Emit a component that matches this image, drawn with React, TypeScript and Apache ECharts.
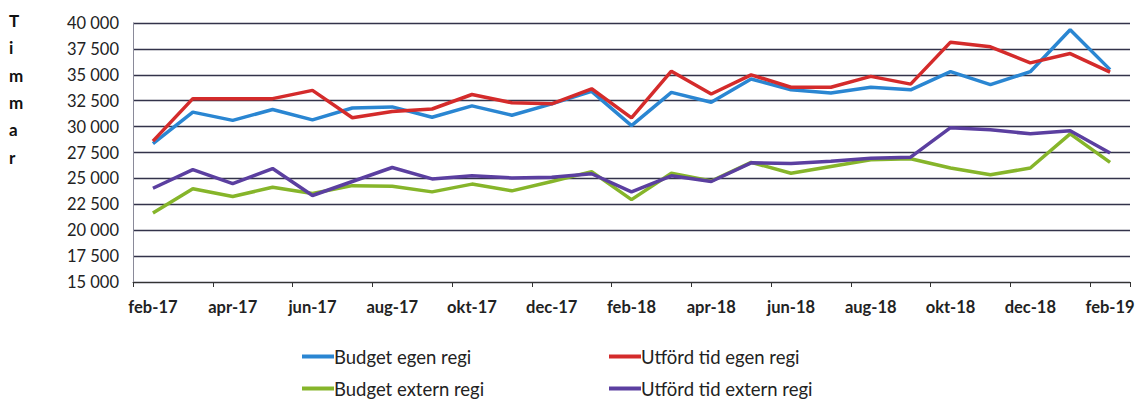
import React, { useEffect, useRef } from "react";
import * as echarts from "echarts";

const months = [
  "feb-17", "mar-17", "apr-17", "maj-17", "jun-17", "jul-17", "aug-17", "sep-17", "okt-17", "nov-17", "dec-17", "jan-18",
  "feb-18", "mar-18", "apr-18", "maj-18", "jun-18", "jul-18", "aug-18", "sep-18", "okt-18", "nov-18", "dec-18", "jan-19", "feb-19",
];
const budgetEgen = [28350, 31400, 30600, 31650, 30650, 31800, 31900, 30900, 32000, 31100, 32200, 33400, 30100, 33300, 32350, 34600, 33550, 33250, 33800, 33550, 35300, 34050, 35300, 39350, 35500];
const utfordEgen = [28600, 32700, 32700, 32700, 33500, 30850, 31450, 31700, 33100, 32300, 32200, 33650, 30850, 35350, 33150, 35000, 33800, 33800, 34850, 34100, 38150, 37700, 36150, 37050, 35250];
const budgetExtern = [21650, 24000, 23250, 24150, 23550, 24300, 24250, 23700, 24450, 23800, 24700, 25650, 22950, 25500, 24750, 26550, 25500, 26150, 26800, 26900, 26000, 25350, 26000, 29300, 26550];
const utfordExtern = [24050, 25850, 24500, 25950, 23350, 24700, 26050, 24950, 25250, 25050, 25100, 25450, 23700, 25250, 24700, 26500, 26450, 26650, 26950, 27050, 29900, 29700, 29300, 29600, 27450];
const seriesNames = ["Budget egen regi", "Utförd tid egen regi", "Budget extern regi", "Utförd tid extern regi"];
const colors = ["#2a86d2", "#d42b2b", "#86b52a", "#5b3fa0"];

const FONT = "Lato, 'Open Sans', sans-serif";

export default function App() {
  const ref = useRef<HTMLDivElement>(null);
  useEffect(() => {
    if (!ref.current) return;
    const chart = echarts.init(ref.current, null, { renderer: "svg" });
    const values = [budgetEgen, utfordEgen, budgetExtern, utfordExtern];
    const legendPos = [
      { left: 297, top: 342 },
      { left: 604, top: 342 },
      { left: 297, top: 374 },
      { left: 604, top: 374 },
    ];
    chart.setOption({
      animation: false,
      grid: { left: 133, right: 8, top: 23, bottom: 128, containLabel: false },
      graphic: [
        {
          type: "text",
          left: 9,
          top: 7,
          style: {
            text: "T\ni\nm\nm\na\nr",
            font: `bold 17px ${FONT}`,
            fill: "#111",
            lineHeight: 27.3,
            align: "left",
          },
        },
      ],
      legend: legendPos.map((p, i) => ({
        left: p.left,
        top: p.top,
        data: [seriesNames[i]],
        icon: "rect",
        itemWidth: 32,
        itemHeight: 4,
        selectedMode: false,
        textStyle: { fontFamily: FONT, fontSize: 18.5, color: "#222", padding: [0, 0, 0, -5] },
      })),
      xAxis: {
        type: "category",
        data: months,
        boundaryGap: true,
        axisLine: { show: true, lineStyle: { color: "#333", width: 1 } },
        axisTick: { show: true, interval: 1, length: 5, lineStyle: { color: "#333" } },
        axisLabel: {
          interval: 1,
          fontFamily: FONT,
          fontWeight: "bold",
          fontSize: 16.5,
          color: "#222",
          margin: 16,
        },
      },
      yAxis: {
        type: "value",
        min: 15000,
        max: 40000,
        interval: 2500,
        axisLine: { show: true, lineStyle: { color: "#8a8a99", width: 1 } },
        axisTick: { show: false },
        splitLine: { show: true, lineStyle: { color: "#33334a", width: 1.3 } },
        axisLabel: {
          fontFamily: FONT,
          fontSize: 16.5,
          color: "#222",
          margin: 14,
          formatter: (v: number) => {
            const s = String(Math.round(v));
            return s.length > 3 ? s.slice(0, s.length - 3) + " " + s.slice(-3) : s;
          },
        },
      },
      series: values.map((d, i) => ({
        name: seriesNames[i],
        type: "line",
        data: d,
        symbol: "none",
        lineStyle: { color: colors[i], width: 3.5 },
        itemStyle: { color: colors[i] },
      })),
    });
    return () => chart.dispose();
  }, []);
  return <div ref={ref} style={{ position: "fixed", left: 0, top: 0, width: 1138, height: 410, background: "#fff" }} />;
}
